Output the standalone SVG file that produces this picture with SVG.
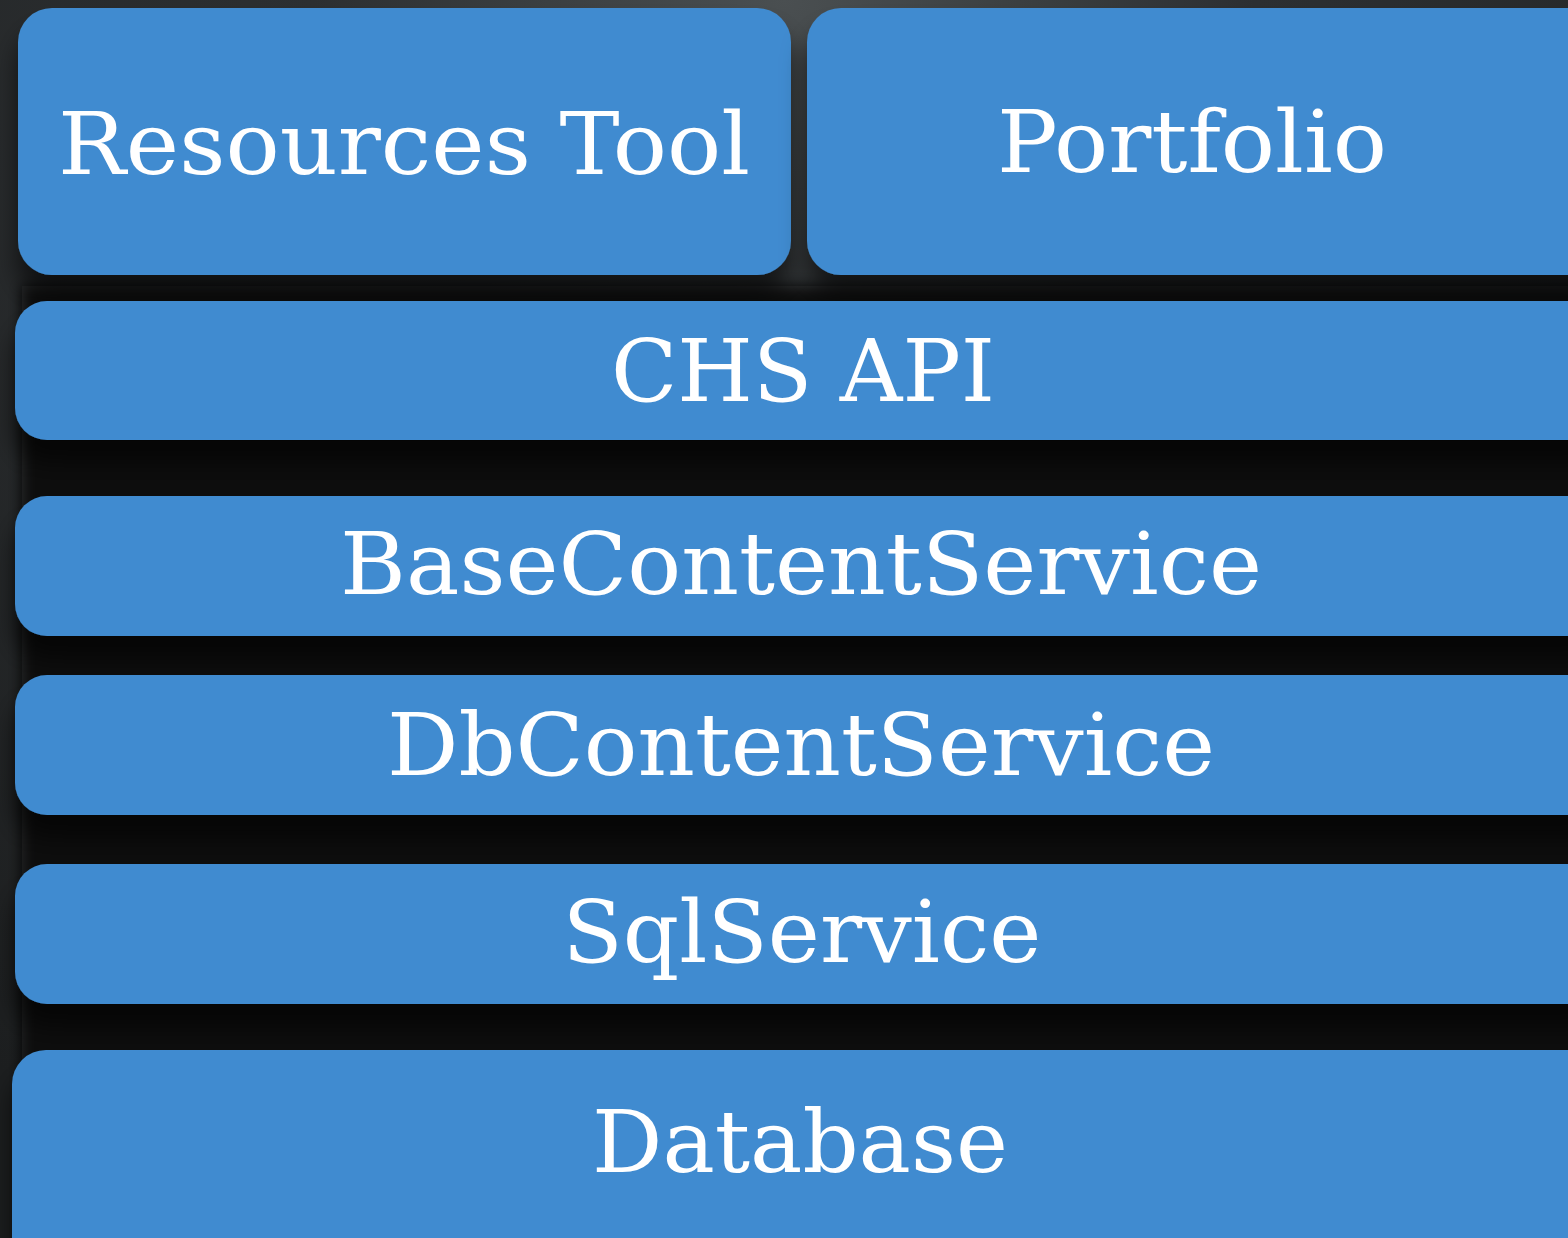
<svg xmlns="http://www.w3.org/2000/svg" width="1568" height="1238" viewBox="0 0 1568 1238">
  <defs>
    <radialGradient id="bg" cx="0.5" cy="0.0" r="1.0">
      <stop offset="0" stop-color="#4a4f51"/>
      <stop offset="0.3" stop-color="#2c2f31"/>
      <stop offset="1" stop-color="#1c1e1f"/>
    </radialGradient>
    <filter id="shadow" x="-5%" y="-20%" width="110%" height="180%">
      <feDropShadow dx="0" dy="22" stdDeviation="12" flood-color="#000" flood-opacity="0.6"/>
    </filter>
    <filter id="soft" x="-5%" y="-5%" width="110%" height="110%">
      <feGaussianBlur stdDeviation="7"/>
    </filter>
    <style>
      .box { fill: #408bd0; filter: url(#shadow); }
      .label { fill: #ffffff; font-family: "DejaVu Serif", "Liberation Serif", serif; font-size: 86px; text-anchor: middle; }
    </style>
  </defs>

  <!-- backdrop -->
  <rect x="0" y="0" width="1568" height="1238" fill="url(#bg)"/>
  <!-- soft shade behind the stacked layers -->
  <rect x="22" y="286" width="1600" height="980" fill="#0f1011" filter="url(#soft)"/>

  <!-- top row: client tools -->
  <g id="resources-tool">
    <rect class="box" x="18" y="8" width="773" height="267" rx="34"/>
    <text class="label" x="404" y="174" textLength="692" lengthAdjust="spacingAndGlyphs">Resources Tool</text>
  </g>
  <g id="portfolio">
    <rect class="box" x="807" y="8" width="800" height="267" rx="34"/>
    <text class="label" x="1192" y="172" textLength="390" lengthAdjust="spacingAndGlyphs">Portfolio</text>
  </g>

  <!-- service layers -->
  <g id="chs-api">
    <rect class="box" x="15" y="301" width="1600" height="139" rx="32"/>
    <text class="label" x="803" y="401" textLength="384" lengthAdjust="spacingAndGlyphs">CHS API</text>
  </g>
  <g id="base-content-service">
    <rect class="box" x="15" y="496" width="1600" height="140" rx="32"/>
    <text class="label" x="801" y="594" textLength="922" lengthAdjust="spacingAndGlyphs">BaseContentService</text>
  </g>
  <g id="db-content-service">
    <rect class="box" x="15" y="675" width="1600" height="140" rx="32"/>
    <text class="label" x="801" y="775" textLength="828" lengthAdjust="spacingAndGlyphs">DbContentService</text>
  </g>
  <g id="sql-service">
    <rect class="box" x="15" y="864" width="1600" height="140" rx="32"/>
    <text class="label" x="802" y="962" textLength="479" lengthAdjust="spacingAndGlyphs">SqlService</text>
  </g>
  <g id="database">
    <rect class="box" x="12" y="1050" width="1600" height="240" rx="34"/>
    <text class="label" x="800" y="1172" textLength="416" lengthAdjust="spacingAndGlyphs">Database</text>
  </g>

  <!-- layers are stacked; no connectors -->
  <g id="connectors"/>
</svg>
